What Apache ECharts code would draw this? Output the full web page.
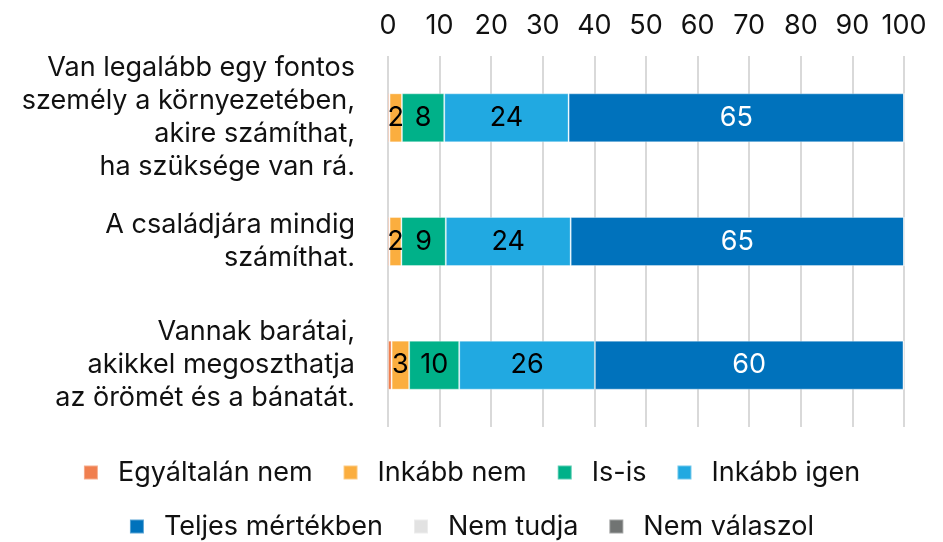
<!DOCTYPE html>
<html><head><meta charset="utf-8">
<script src="https://cdn.jsdelivr.net/npm/echarts@6/dist/echarts.min.js"></script>
<style>html,body{margin:0;padding:0;background:#fff}#c{width:943px;height:542px}</style>
</head><body><div id="c"></div>
<script>
const categories = [
  "Van legalább egy fontos\nszemély a környezetében,\nakire számíthat,\nha szüksége van rá.",
  "A családjára mindig\nszámíthat.",
  "Vannak barátai,\nakikkel megoszthatja\naz örömét és a bánatát."
];
const seriesNames = ["Egyáltalán nem","Inkább nem","Is-is","Inkább igen","Teljes mértékben","Nem tudja","Nem válaszol"];
const egyaltalanNem = [0.3, 0.3, 0.7];
const inkabbNem = [2.4, 2.3, 3.4];
const isIs = [8.2, 8.6, 9.7];
const inkabbIgen = [24.1, 24.2, 26.3];
const teljesMertekben = [65.0, 64.6, 59.8];
const nemTudja = [0, 0, 0.05];
const nemValaszol = [0, 0, 0.05];
const colors = ["#F07F4F","#FBAE3F","#00B189","#21A9E1","#0072BC","#E2E2E2","#717473"];
const labelColors = ["#000","#000","#000","#000","#fff","#000","#fff"];
const allData = [egyaltalanNem, inkabbNem, isIs, inkabbIgen, teljesMertekben, nemTudja, nemValaszol];
const FONT = "Inter";
const FS = 27;
const legendText = {fontSize:FS, lineHeight:26, color:'#111', fontFamily:FONT, padding:[0,0,0,15]};
const chart = echarts.init(document.getElementById('c'), null, {renderer:'canvas'});
chart.setOption({
  animation:false,
  textStyle:{fontFamily:FONT},
  grid:{left:388, right:39, top:56, bottom:115, containLabel:false},
  xAxis:{type:'value', position:'top', min:0, max:100, interval:10,
    axisLine:{show:false}, axisTick:{show:false},
    axisLabel:{fontSize:FS, color:'#111', margin:17, fontFamily:FONT},
    splitLine:{show:true, lineStyle:{color:'#d9d9d9', width:2}}},
  yAxis:{type:'category', data:categories, inverse:true,
    axisLine:{show:false}, axisTick:{show:false},
    axisLabel:{fontSize:FS, color:'#111', margin:33, lineHeight:33, align:'right', fontFamily:FONT}},
  legend:[
    {top:459, left:'center', itemWidth:14, itemHeight:14, itemGap:30, padding:0,
     icon:'rect', textStyle:legendText, data:seriesNames.slice(0,4)},
    {top:513, left:'center', itemWidth:14, itemHeight:14, itemGap:30, padding:0,
     icon:'rect', textStyle:legendText, data:seriesNames.slice(4)}
  ],
  series: seriesNames.map((n,i)=>({
    name:n, type:'bar', stack:'all', barWidth:49,
    data: allData[i],
    itemStyle:{color:colors[i], borderColor:'rgba(255,255,255,0.35)', borderWidth:1},
    label:{show:true, position:'inside', fontSize:FS, color:labelColors[i], fontFamily:FONT,
      formatter:p=> p.value>=1 ? String(Math.round(p.value)) : ''}
  }))
});
</script></body></html>
